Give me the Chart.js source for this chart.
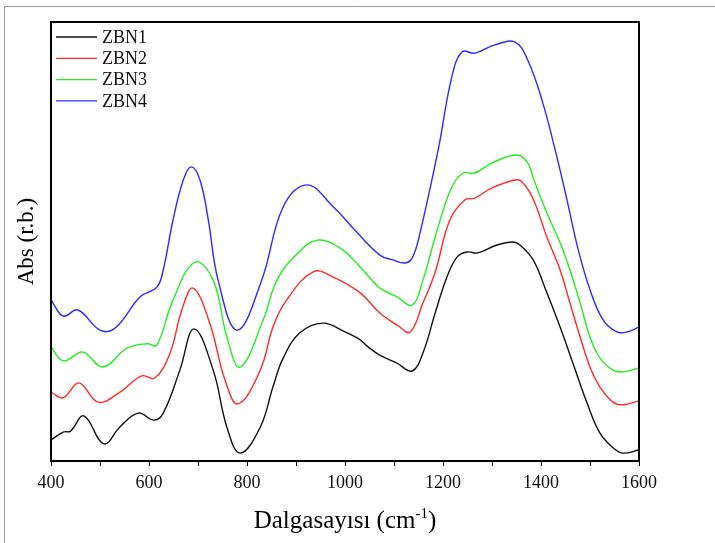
<!DOCTYPE html>
<html>
<head>
<meta charset="utf-8">
<script src="https://cdn.jsdelivr.net/npm/chart.js@4"></script>
<style>
  body { margin: 0; background: #fff; }
</style>
</head>
<body>
<canvas id="grafik" width="715" height="543"></canvas>
<script>
// Dalga sayisi (cm-1) ve absorbans degerleri (keyfi birim)
const zbn1Dalga = [400, 425, 440, 467, 508, 541, 578, 610, 629, 663, 692, 731, 759, 786, 827, 853, 874, 908, 955, 1000, 1031, 1047, 1071, 1106, 1137, 1159, 1184, 1208, 1229, 1249, 1271, 1310, 1343, 1357, 1384, 1412, 1439, 1465, 1494, 1520, 1547, 1567, 1600];
const zbn1Abs   = [0.048, 0.066, 0.068, 0.103, 0.039, 0.078, 0.109, 0.093, 0.109, 0.207, 0.301, 0.207, 0.077, 0.018, 0.077, 0.169, 0.235, 0.292, 0.314, 0.294, 0.276, 0.260, 0.241, 0.223, 0.205, 0.246, 0.337, 0.419, 0.465, 0.476, 0.474, 0.492, 0.499, 0.492, 0.458, 0.383, 0.305, 0.223, 0.132, 0.064, 0.030, 0.018, 0.025];

const zbn2Dalga = [400, 425, 457, 496, 541, 585, 612, 643, 667, 690, 724, 755, 782, 827, 853, 878, 935, 976, 1031, 1071, 1106, 1133, 1159, 1184, 1214, 1245, 1265, 1300, 1347, 1361, 1384, 1412, 1439, 1459, 1480, 1500, 1520, 1547, 1567, 1600];
const zbn2Abs   = [0.157, 0.144, 0.178, 0.134, 0.157, 0.194, 0.189, 0.246, 0.344, 0.394, 0.314, 0.185, 0.130, 0.207, 0.305, 0.362, 0.431, 0.419, 0.383, 0.337, 0.310, 0.294, 0.360, 0.430, 0.549, 0.595, 0.599, 0.622, 0.640, 0.636, 0.597, 0.510, 0.435, 0.360, 0.282, 0.214, 0.169, 0.134, 0.128, 0.137];

const zbn3Dalga = [400, 425, 465, 506, 555, 596, 616, 649, 694, 731, 759, 786, 833, 861, 900, 943, 990, 1031, 1071, 1106, 1137, 1159, 1188, 1218, 1241, 1265, 1300, 1351, 1373, 1384, 1412, 1439, 1459, 1480, 1500, 1520, 1547, 1567, 1600];
const zbn3Abs   = [0.260, 0.228, 0.248, 0.214, 0.257, 0.267, 0.264, 0.367, 0.453, 0.412, 0.282, 0.214, 0.321, 0.412, 0.469, 0.503, 0.485, 0.442, 0.394, 0.374, 0.355, 0.412, 0.526, 0.624, 0.656, 0.656, 0.679, 0.697, 0.679, 0.645, 0.565, 0.497, 0.435, 0.360, 0.282, 0.235, 0.207, 0.203, 0.212];

const zbn4Dalga = [400, 425, 455, 500, 531, 582, 616, 629, 649, 670, 686, 704, 721, 741, 780, 830, 874, 922, 976, 1020, 1071, 1098, 1122, 1137, 1153, 1190, 1218, 1239, 1265, 1306, 1347, 1373, 1402, 1429, 1453, 1476, 1500, 1527, 1555, 1576, 1600];
const zbn4Abs   = [0.367, 0.330, 0.344, 0.298, 0.303, 0.374, 0.396, 0.435, 0.549, 0.640, 0.670, 0.640, 0.549, 0.412, 0.298, 0.412, 0.579, 0.629, 0.579, 0.526, 0.469, 0.458, 0.451, 0.462, 0.519, 0.708, 0.875, 0.932, 0.929, 0.948, 0.954, 0.913, 0.822, 0.708, 0.595, 0.481, 0.390, 0.321, 0.294, 0.294, 0.305];

const seriIsimleri = ["ZBN1", "ZBN2", "ZBN3", "ZBN4"];
const renkler = ["#111111", "#ff2a2a", "#22ee22", "#2b2bff"];

function noktalar(xs, ys) {
  return xs.map((x, i) => ({ x: x, y: ys[i] }));
}

const seriler = [
  noktalar(zbn1Dalga, zbn1Abs),
  noktalar(zbn2Dalga, zbn2Abs),
  noktalar(zbn3Dalga, zbn3Abs),
  noktalar(zbn4Dalga, zbn4Abs)
];

const serif = "'Liberation Serif', 'DejaVu Serif', serif";

// cerceve, kutu, eksen basliklari ve gosterge
const ciziciEklenti = {
  id: "cizici",
  beforeDraw(chart) {
    const c = chart.ctx;
    c.save();
    c.fillStyle = "#fff";
    c.fillRect(0, 0, chart.width, chart.height);
    c.strokeStyle = "#999";
    c.lineWidth = 1;
    c.beginPath();
    c.moveTo(4.5, chart.height);
    c.lineTo(4.5, 6.5);
    c.lineTo(chart.width, 6.5);
    c.stroke();
    c.restore();
  },
  afterDraw(chart) {
    const c = chart.ctx;
    const a = chart.chartArea;
    c.save();
    c.strokeStyle = "#000";
    c.lineWidth = 2;
    c.strokeRect(a.left, a.top, a.right - a.left, a.bottom - a.top);

    // x ekseni basligi
    c.fillStyle = "#000";
    c.textBaseline = "alphabetic";
    const p1 = "Dalgasayısı (cm";
    const p2 = "-1";
    const p3 = ")";
    c.font = "25px " + serif;
    const w1 = c.measureText(p1).width;
    const w3 = c.measureText(p3).width;
    c.font = "15px " + serif;
    const w2 = c.measureText(p2).width;
    const toplam = w1 + w2 + w3;
    let x = (a.left + a.right) / 2 - toplam / 2;
    const yb = 528;
    c.textAlign = "left";
    c.font = "25px " + serif;
    c.fillText(p1, x, yb);
    c.font = "15px " + serif;
    c.fillText(p2, x + w1, yb - 10);
    c.font = "25px " + serif;
    c.fillText(p3, x + w1 + w2, yb);

    // y ekseni basligi
    c.save();
    c.translate(33, (a.top + a.bottom) / 2);
    c.rotate(-Math.PI / 2);
    c.textAlign = "center";
    c.font = "23px " + serif;
    c.fillText("Abs (r.b.)", 0, 0);
    c.restore();

    // gosterge
    c.font = "18px " + serif;
    c.textAlign = "left";
    c.textBaseline = "middle";
    c.lineWidth = 1.3;
    seriIsimleri.forEach((ad, i) => {
      const y = 37 + i * 21.3;
      c.strokeStyle = renkler[i];
      c.beginPath();
      c.moveTo(56, y);
      c.lineTo(97, y);
      c.stroke();
      c.fillStyle = "#111";
      c.fillText(ad, 102, y + 1);
    });
    c.restore();
  }
};

const grafik = new Chart(document.getElementById("grafik"), {
  type: "line",
  data: {
    datasets: seriler.map((veri, i) => ({
      label: seriIsimleri[i],
      data: veri,
      borderColor: renkler[i],
      borderWidth: 1.4,
      pointRadius: 0,
      fill: false,
      tension: 0.4
    }))
  },
  options: {
    responsive: false,
    devicePixelRatio: 1,
    animation: false,
    layout: { padding: { top: 22, right: 76, left: 0, bottom: 0 } },
    plugins: {
      legend: { display: false },
      tooltip: { enabled: false }
    },
    scales: {
      x: {
        type: "linear",
        min: 400,
        max: 1600,
        afterFit: (s) => { s.height = 82; },
        border: { display: false },
        grid: {
          drawOnChartArea: false,
          drawTicks: true,
          tickLength: 5,
          color: "#000",
          lineWidth: 1
        },
        ticks: {
          stepSize: 100,
          autoSkip: false,
          maxRotation: 0,
          padding: 6,
          color: "#111",
          font: { family: serif, size: 18 },
          callback: (v) => (v % 200 === 0 ? String(v) : "")
        }
      },
      y: {
        min: 0,
        max: 1,
        afterFit: (s) => { s.width = 51; },
        border: { display: false },
        grid: { display: false },
        ticks: { display: false }
      }
    }
  },
  plugins: [ciziciEklenti]
});
</script>
</body>
</html>
